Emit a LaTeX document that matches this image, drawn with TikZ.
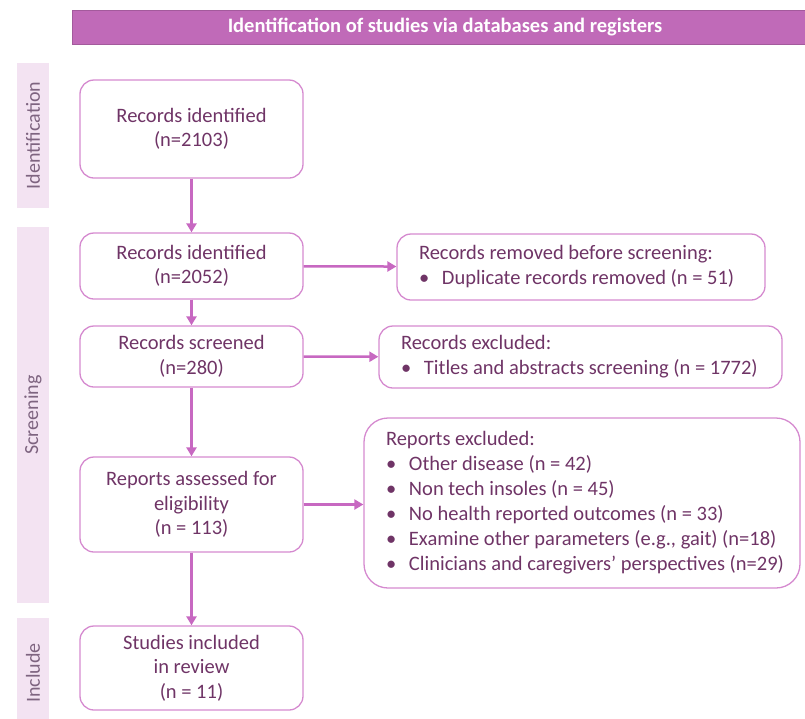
\documentclass[tikz,border=0pt]{standalone}
\usepackage{fontspec}
\setmainfont{Carlito}
\usetikzlibrary{arrows.meta}
\definecolor{headpink}{HTML}{C06AB8}
\definecolor{barpink}{HTML}{F3E3F2}
\definecolor{boxline}{HTML}{D58ACF}
\definecolor{arrowpink}{HTML}{C768C1}
\definecolor{textpurple}{HTML}{6F3466}
\definecolor{sidegray}{HTML}{7E6480}
\newcommand{\bul}{\makebox[23pt][l]{\textbullet}}

\begin{document}
\begin{tikzpicture}[x=1pt,y=-1pt,
	box/.style={draw=boxline, line width=1.3pt, rounded corners=14pt, text=textpurple, font=\fontsize{20.5}{24.5}\selectfont, align=flush center, minimum width=223pt, inner sep=0pt},
	sidebox/.style={box, align=flush left, inner xsep=8pt, inner ysep=0pt, font=\fontsize{20.5}{25}\selectfont, execute at begin node={\leftskip=14pt}},
	bar/.style={fill=barpink, rotate=90, minimum height=32pt, inner sep=0pt, text=sidegray, font=\fontsize{20}{22}\selectfont},
	arr/.style={draw=arrowpink, line width=2.5pt, -{Triangle[length=9pt,width=10pt]}}]
					\useasboundingbox (0,0) rectangle (805,718);
					\node[fill=headpink, draw=headpink!85!black, line width=0.6pt, minimum width=746pt, minimum height=34pt, inner sep=0pt, text=white, font=\fontsize{20.5}{22}\selectfont\bfseries] at (445,27)(head){Identification of studies via databases and registers};
					\node[bar, minimum width=145pt] at (33,135.5)(idbar){Identification};
					\node[bar, minimum width=376pt] at (33,415)(scrbar){Screening};
					\node[bar, minimum width=110pt] at (33,673)(incbar){Include};
					\node[box, minimum height=98pt] at (191.5,129)(b1){Records identified\\(n=2103)};
					\node[box, minimum height=66pt] at (191.5,266)(b2){Records identified\\(n=2052)};
					\node[box, minimum height=61pt] at (191.5,356.5)(b3){Records screened\\(n=280)};
					\node[box, minimum height=95pt] at (191.5,504.5)(b4){Reports assessed for\\eligibility\\(n = 113)};
					\node[box, minimum height=84pt] at (191.5,668)(b5){Studies included\\in review\\(n = 11)};
					\node[sidebox, text width=352pt, minimum height=66pt] at (581,267)(r1){Records removed before screening:\\\bul Duplicate records removed (n = 51)};
					\node[sidebox, text width=387pt, minimum height=62pt] at (580.5,357)(r2){Records excluded:\\\bul Titles and abstracts screening (n = 1772)};
					\node[sidebox, rounded corners=24pt, text width=420pt, minimum height=170pt] at (582,503)(r3){Reports excluded:\\\bul Other disease (n = 42)\\\bul Non tech insoles (n = 45)\\\bul No health reported outcomes (n = 33)\\\bul Examine other parameters (e.g., gait) (n=18)\\\bul Clinicians and caregivers’ perspectives (n=29)};
					\draw[arr] (b1) -- (b2);
					\draw[arr] (b2) -- (b3);
					\draw[arr] (b3) -- (b4);
					\draw[arr] (b4) -- (b5);
					\draw[arr] (b2) -- (r1);
					\draw[arr] (b3) -- (r2);
					\draw[arr] (b4.east) -- (b4.east -| r3.west);
				\end{tikzpicture}
\end{document}
